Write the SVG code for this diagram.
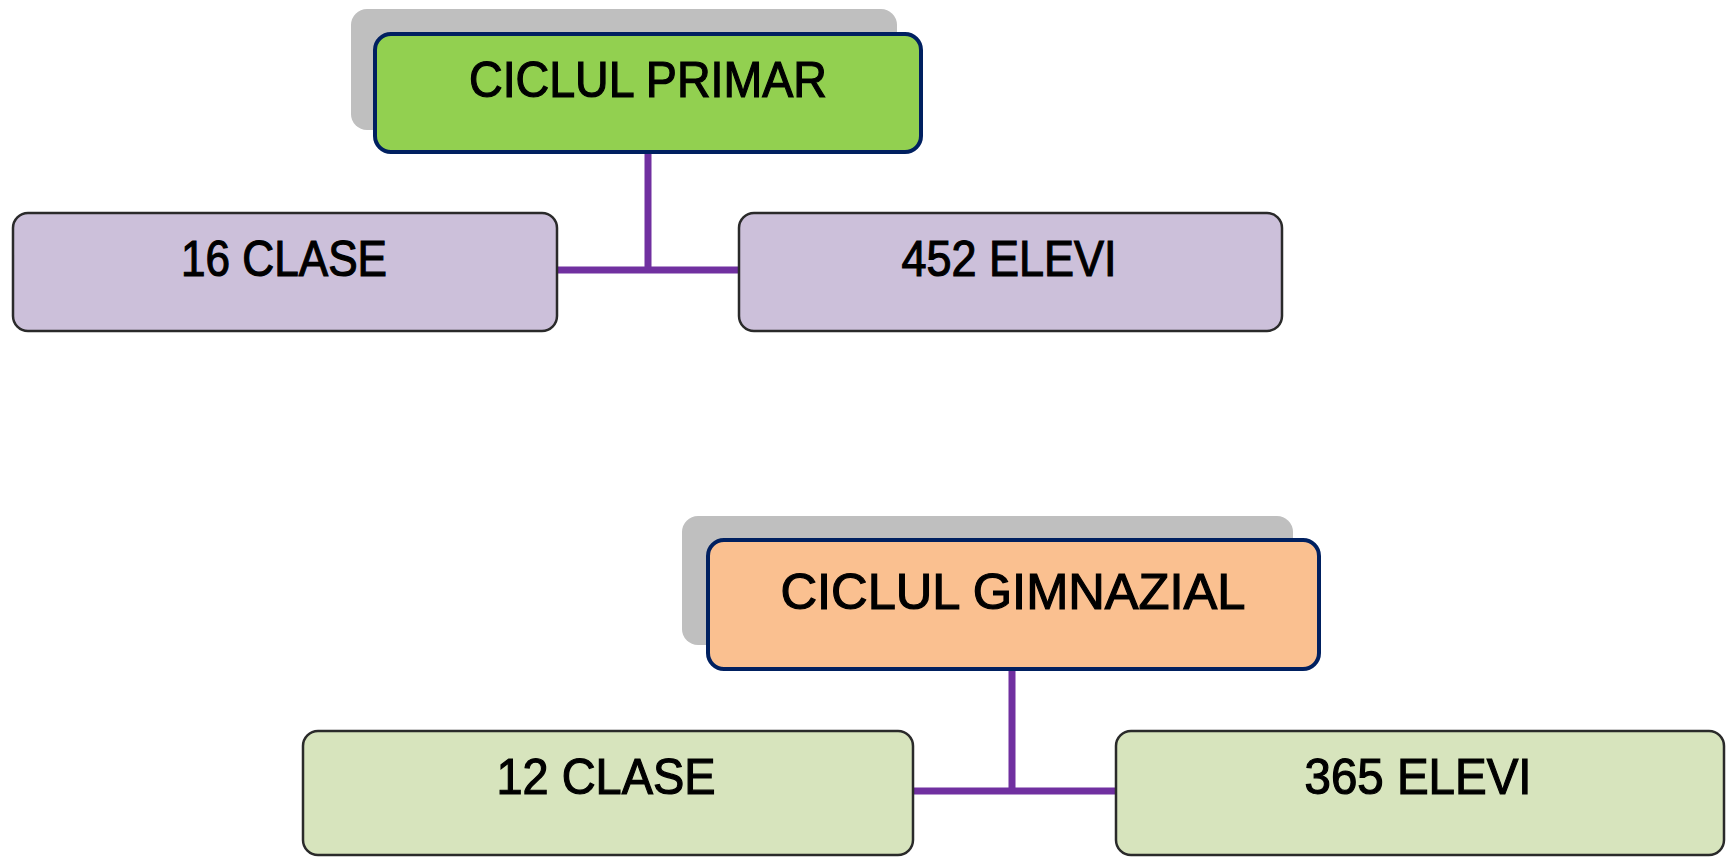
<svg xmlns="http://www.w3.org/2000/svg" width="1729" height="857" viewBox="0 0 1729 857">
<style>
.shadow{fill:#BFBFBF}
.head{stroke:#002060;stroke-width:4}
.sub{stroke:#2A2A2A;stroke-width:2.5}
.t{font-family:"Liberation Sans",Arial,sans-serif;font-size:50px;fill:#000;stroke:#000;stroke-width:1.2;text-anchor:middle}
.conn{stroke:#7030A0;stroke-width:7;fill:none}
</style>
<rect width="1729" height="857" fill="#FFFFFF"/>
<g id="connectors">
<path class="conn" d="M648 152 V270 M557 270 H739"/>
<path class="conn" d="M1012 669 V791 M913 791 H1116"/>
</g>
<g id="ciclul-primar">
<rect class="shadow" x="351" y="9" width="546" height="121" rx="16"/>
<rect class="head" x="375" y="34" width="546" height="118" rx="16" fill="#92D050"/>
<text class="t" x="648" y="97" textLength="358" lengthAdjust="spacingAndGlyphs">CICLUL PRIMAR</text>
</g>
<g id="clase-16">
<rect class="sub" x="13" y="213" width="544" height="118" rx="15" fill="#CCC0DA"/>
<text class="t" x="284" y="276" textLength="206" lengthAdjust="spacingAndGlyphs">16 CLASE</text>
</g>
<g id="elevi-452">
<rect class="sub" x="739" y="213" width="543" height="118" rx="15" fill="#CCC0DA"/>
<text class="t" x="1009" y="276" textLength="215" lengthAdjust="spacingAndGlyphs">452 ELEVI</text>
</g>
<g id="ciclul-gimnazial">
<rect class="shadow" x="682" y="516" width="611" height="129" rx="16"/>
<rect class="head" x="708" y="540" width="611" height="129" rx="16" fill="#FAC090"/>
<text class="t" x="1013" y="609" textLength="465" lengthAdjust="spacingAndGlyphs">CICLUL GIMNAZIAL</text>
</g>
<g id="clase-12">
<rect class="sub" x="303" y="731" width="610" height="124" rx="15" fill="#D7E4BD"/>
<text class="t" x="606" y="794" textLength="219" lengthAdjust="spacingAndGlyphs">12 CLASE</text>
</g>
<g id="elevi-365">
<rect class="sub" x="1116" y="731" width="608" height="124" rx="15" fill="#D7E4BD"/>
<text class="t" x="1418" y="794" textLength="227" lengthAdjust="spacingAndGlyphs">365 ELEVI</text>
</g>
</svg>
